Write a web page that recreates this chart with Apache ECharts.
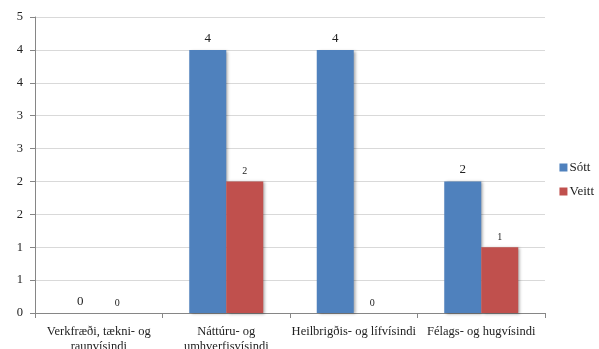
<!DOCTYPE html>
<html><head><meta charset="utf-8">
<script src="https://cdn.jsdelivr.net/npm/echarts@6/dist/echarts.min.js"></script>
<style>html,body{margin:0;padding:0;background:#fff}#c{width:599px;height:349px}</style>
</head><body><div id="c"></div>
<script>
const categories = ['Verkfræði, tækni- og\nraunvísindi', 'Náttúru- og\numhverfisvísindi', 'Heilbrigðis- og lífvísindi', 'Félags- og hugvísindi'];
const sottValues = [0, 4, 4, 2];
const veittValues = [0, 2, 0, 1];
const yTickLabels = ['0', '1', '1', '2', '2', '3', '3', '4', '4', '5'];
const seriesNames = ['Sótt', 'Veitt'];

const font = '"Liberation Serif", "DejaVu Serif", serif';
const chart = echarts.init(document.getElementById('c'), null, {renderer: 'canvas'});
const shadow = {shadowBlur: 3, shadowOffsetX: 2, shadowOffsetY: 1, shadowColor: 'rgba(0,0,0,0.35)'};
chart.setOption({
  animation: false,
  grid: {left: 35, right: 54, top: 17, bottom: 36, containLabel: false, outerBoundsMode: 'none'},
  legend: {
    orient: 'vertical', right: 0, top: 156, itemWidth: 8, itemHeight: 8, itemGap: 11,
    icon: 'rect',
    textStyle: {fontFamily: font, fontSize: 13, color: '#222', padding: [0, 0, 0, -3]},
    data: seriesNames
  },
  xAxis: {
    type: 'category', data: categories,
    axisLine: {lineStyle: {color: '#868686'}},
    axisTick: {show: true, length: 5, lineStyle: {color: '#868686'}},
    axisLabel: {fontFamily: font, fontSize: 12.5, color: '#222', lineHeight: 15, margin: 11, interval: 0}
  },
  yAxis: {
    type: 'value', min: 0, max: 4.5, interval: 0.5,
    axisLine: {show: true, lineStyle: {color: '#868686'}},
    axisTick: {show: true, length: 5, lineStyle: {color: '#868686'}},
    splitLine: {lineStyle: {color: '#d9d9d9'}},
    axisLabel: {fontFamily: font, fontSize: 12.5, color: '#222', margin: 12,
      formatter: (v) => yTickLabels[Math.round(v * 2)]}
  },
  series: [
    {name: seriesNames[0], type: 'bar', data: sottValues, barWidth: 37, barGap: '0%',
     itemStyle: Object.assign({color: '#4F81BD'}, shadow),
     label: {show: true, position: 'top', distance: 5, fontFamily: font, fontSize: 13, color: '#222'}},
    {name: seriesNames[1], type: 'bar', data: veittValues, barWidth: 37, barGap: '0%',
     itemStyle: Object.assign({color: '#C0504D'}, shadow),
     label: {show: true, position: 'top', distance: 5, fontFamily: font, fontSize: 10, color: '#222'}}
  ]
});
</script></body></html>
